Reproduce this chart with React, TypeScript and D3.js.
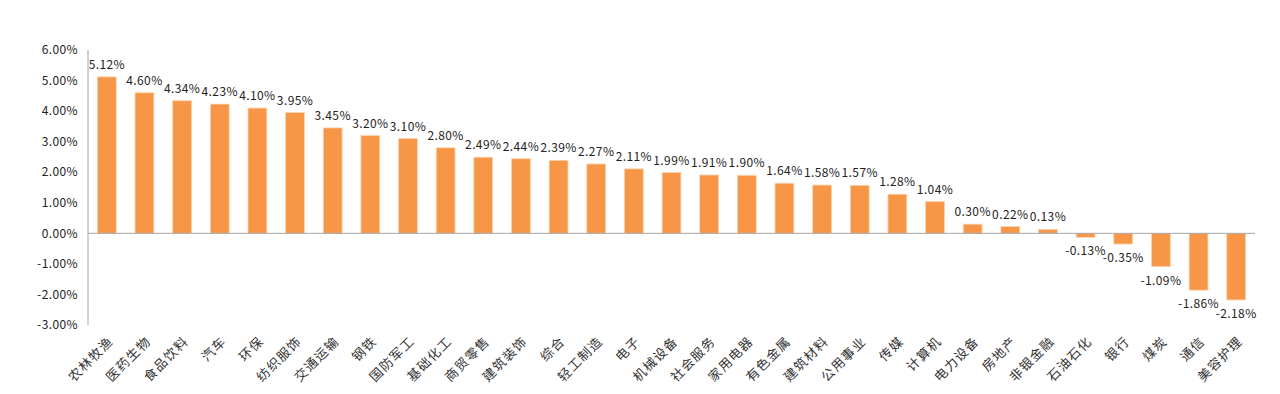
import React from 'react';
import * as d3 from 'd3';

const categories = ['农林牧渔', '医药生物', '食品饮料', '汽车', '环保', '纺织服饰', '交通运输', '钢铁', '国防军工', '基础化工', '商贸零售', '建筑装饰', '综合', '轻工制造', '电子', '机械设备', '社会服务', '家用电器', '有色金属', '建筑材料', '公用事业', '传媒', '计算机', '电力设备', '房地产', '非银金融', '石油石化', '银行', '煤炭', '通信', '美容护理'];
const values = [5.12, 4.60, 4.34, 4.23, 4.10, 3.95, 3.45, 3.20, 3.10, 2.80, 2.49, 2.44, 2.39, 2.27, 2.11, 1.99, 1.91, 1.90, 1.64, 1.58, 1.57, 1.28, 1.04, 0.30, 0.22, 0.13, -0.13, -0.35, -1.09, -1.86, -2.18];
const yTicks = [6, 5, 4, 3, 2, 1, 0, -1, -2, -3];

const W = 1280;
const H = 394;
const margin = { top: 50, right: 25, bottom: 69, left: 88 };

const App = () => {
  const svgRef = React.useRef(null);

  React.useEffect(() => {
    const svg = d3.select(svgRef.current);
    svg.selectAll('*').remove();

    const x = d3.scaleBand()
      .domain(categories)
      .range([margin.left, W - margin.right])
      .paddingInner(0.5)
      .paddingOuter(0.25);

    const y = d3.scaleLinear()
      .domain([-3, 6])
      .range([H - margin.bottom, margin.top]);

    const font = '"Noto Sans CJK SC", "DejaVu Sans", sans-serif';

    // y axis labels
    svg.append('g')
      .selectAll('text')
      .data(yTicks)
      .enter()
      .append('text')
      .attr('x', 78)
      .attr('y', (d) => y(d))
      .attr('dy', '0.35em')
      .attr('text-anchor', 'end')
      .attr('font-size', 12)
      .attr('letter-spacing', 0.4)
      .attr('font-family', font)
      .attr('fill', '#222')
      .text((d) => d.toFixed(2) + '%');

    svg.append('line')
      .attr('x1', margin.left).attr('x2', margin.left)
      .attr('y1', y(6)).attr('y2', y(-3))
      .attr('stroke', '#a6a6a6');

    // bars
    svg.append('g')
      .selectAll('rect')
      .data(values)
      .enter()
      .append('rect')
      .attr('x', (d, i) => x(categories[i]))
      .attr('width', x.bandwidth())
      .attr('y', (d) => y(Math.max(0, d)))
      .attr('height', (d) => Math.abs(y(d) - y(0)))
      .attr('fill', '#f79646')
      .attr('stroke', '#fbd3b0')
      .attr('stroke-width', 0.8);

    // zero line
    svg.append('line')
      .attr('x1', margin.left).attr('x2', W - margin.right)
      .attr('y1', y(0)).attr('y2', y(0))
      .attr('stroke', '#a6a6a6');

    // value labels
    svg.append('g')
      .selectAll('text')
      .data(values)
      .enter()
      .append('text')
      .attr('x', (d, i) => x(categories[i]) + x.bandwidth() / 2)
      .attr('y', (d) => d >= 0 ? y(d) - 8 : y(d) + 18)
      .attr('text-anchor', 'middle')
      .attr('font-size', 12)
      .attr('letter-spacing', 0.4)
      .attr('font-family', font)
      .attr('fill', '#222')
      .text((d) => d.toFixed(2) + '%');

    // category labels
    svg.append('g')
      .selectAll('text')
      .data(categories)
      .enter()
      .append('text')
      .attr('transform', (d) => `translate(${x(d) + x.bandwidth() / 2 + 4},${H - margin.bottom + 14}) rotate(-45)`)
      .attr('text-anchor', 'end')
      .attr('dy', '0.35em')
      .attr('font-size', 13)
      .attr('letter-spacing', 1.2)
      .attr('font-family', font)
      .attr('fill', '#333')
      .text((d) => d);
  }, []);

  return (
    <svg ref={svgRef} width={W} height={H} style={{ position: 'absolute', left: 0, top: 0 }} />
  );
};

export default App;
